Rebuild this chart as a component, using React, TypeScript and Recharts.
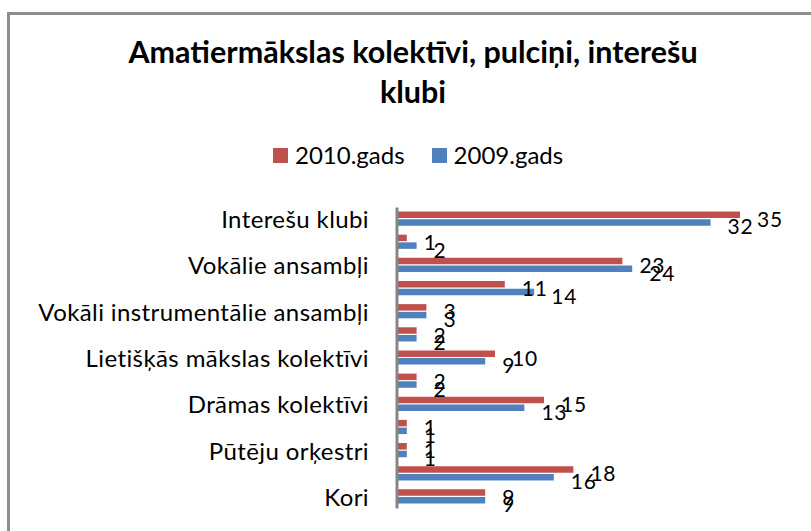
import React from "react";
import { BarChart, Bar, XAxis, YAxis, Legend, LabelList } from "recharts";

const categories = [
  "Interešu klubi",
  "",
  "Vokālie ansambļi",
  "",
  "Vokāli instrumentālie ansambļi",
  "",
  "Lietišķās mākslas kolektīvi",
  "",
  "Drāmas kolektīvi",
  "",
  "Pūtēju orķestri",
  "",
  "Kori",
];
const values2010 = [35, 1, 23, 11, 3, 2, 10, 2, 15, 1, 1, 18, 9];
const values2009 = [32, 2, 24, 14, 3, 2, 9, 2, 13, 1, 1, 16, 9];
const seriesNames = ["2010.gads", "2009.gads"];
const titleLines = ["Amatiermākslas kolektīvi, pulciņi, interešu", "klubi"];

const data = categories.map((c, i) => ({
  id: i,
  name: c,
  y2010: values2010[i],
  y2009: values2009[i],
}));

const FONT = "Lato, Carlito, Calibri, sans-serif";
const RED = "#C0504D";
const BLUE = "#4F81BD";

const CatTick = (props: any) => {
  const { x, y, payload } = props;
  const label = categories[payload.value] ?? "";
  return (
    <text
      x={x}
      y={y}
      dy={9}
      textAnchor="end"
      fontFamily={FONT}
      fontSize={24}
      letterSpacing={0.4}
      fill="#000"
    >
      {label}
    </text>
  );
};

const makeLabel = (dy: number) => (props: any) => {
  const { x, y, width, height, value } = props;
  return (
    <text
      x={Number(x) + Number(width) + 17}
      y={Number(y) + Number(height) / 2 + dy}
      dominantBaseline="central"
      textAnchor="start"
      fontFamily={FONT}
      fontSize={21}
      letterSpacing={0.8}
      fill="#000"
    >
      {value}
    </text>
  );
};

const LegendContent = (props: any) => {
  const payload = [...(props.payload || [])].sort(
    (a: any, b: any) => seriesNames.indexOf(a.value) - seriesNames.indexOf(b.value)
  );
  return (
    <div
      style={{
        display: "flex",
        alignItems: "center",
        paddingLeft: 273,
        fontFamily: FONT,
        fontSize: 24,
        color: "#000",
        lineHeight: "30px",
      }}
    >
      {payload.map((p: any, i: number) => (
        <div
          key={i}
          style={{ display: "flex", alignItems: "center", marginRight: 27 }}
        >
          <span
            style={{
              display: "inline-block",
              width: 15,
              height: 15,
              background: p.color,
              marginRight: 7,
            }}
          />
          <span>{p.value}</span>
        </div>
      ))}
    </div>
  );
};

export default function App() {
  return (
    <div style={{ position: "fixed", left: 0, top: 0, width: 811, height: 531, background: "#fff", overflow: "hidden" }}>
      <div
        style={{
          position: "absolute",
          left: 7,
          top: 12,
          width: 804,
          height: 519,
          borderLeft: "3px solid #8e8e8e",
          borderTop: "3px solid #8e8e8e",
          boxSizing: "border-box",
        }}
      />
      <div
        style={{
          position: "absolute",
          left: 0,
          top: 31,
          width: 826,
          textAlign: "center",
          fontFamily: FONT,
          fontWeight: 700,
          fontSize: 30.5,
          lineHeight: "40px",
          color: "#000",
        }}
      >
        {titleLines[0]}
        <br />
        {titleLines[1]}
      </div>
      <div style={{ position: "absolute", left: 0, top: 0 }}>
        <BarChart
          width={811}
          height={531}
          data={data}
          layout="vertical"
          margin={{ top: 207.5, right: 22, bottom: 22.5, left: 0 }}
          barGap={1.2}
        >
          <XAxis type="number" domain={[0, 40]} hide />
          <YAxis
            type="category"
            dataKey="id"
            width={397}
            interval={1}
            tickLine={false}
            tickSize={6}
            tickMargin={22}
            axisLine={{ stroke: "#868686", strokeWidth: 3 }}
            tick={<CatTick />}
          />
          <Legend
            layout="horizontal"
            verticalAlign="middle"
            align="center"
            content={<LegendContent />}
            wrapperStyle={{ position: "absolute", top: 140, left: 0, width: 811 }}
          />
          <Bar
            dataKey="y2010"
            name={seriesNames[0]}
            fill={RED}
            barSize={6.5}
            isAnimationActive={false}
          >
            <LabelList dataKey="y2010" content={makeLabel(3.5)} />
          </Bar>
          <Bar
            dataKey="y2009"
            name={seriesNames[1]}
            fill={BLUE}
            barSize={6.5}
            isAnimationActive={false}
          >
            <LabelList dataKey="y2009" content={makeLabel(3.5)} />
          </Bar>
        </BarChart>
      </div>
    </div>
  );
}
